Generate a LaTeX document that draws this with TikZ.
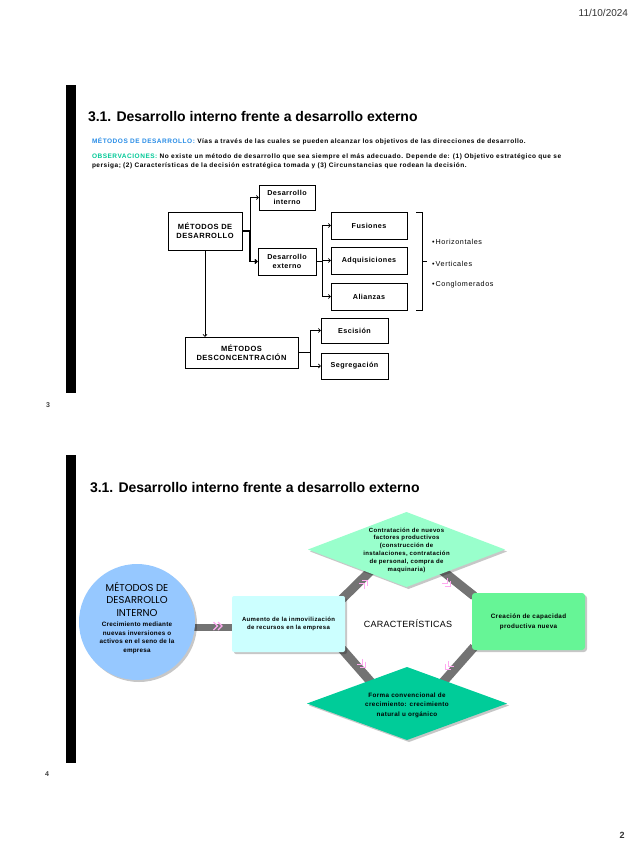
\documentclass[tikz,border=0pt]{standalone}
\usepackage{fontspec}
\setmainfont{Liberation Sans}
\newfontfamily\geofont{Poppins}
\usetikzlibrary{shapes.geometric,arrows.meta,calc,shadows}
\definecolor{lblue}{RGB}{40,140,230}
\definecolor{lgreen}{RGB}{0,200,150}
\definecolor{cblue}{RGB}{150,200,255}
\definecolor{ccyan}{RGB}{204,255,255}
\definecolor{cmint}{RGB}{153,255,204}
\definecolor{cgreen}{RGB}{102,245,150}
\definecolor{cteal}{RGB}{0,204,153}
\definecolor{cpink}{RGB}{255,170,240}
\definecolor{bandgray}{RGB}{115,115,115}
\newcommand\fs[2]{\fontsize{#1}{#2}\selectfont}
\newcommand\lsp[1]{\addfontfeatures{LetterSpace=#1}}
\pgfdeclarelayer{bg}
\pgfsetlayers{bg,main}
\begin{document}
\begin{tikzpicture}[x=1pt,y=-1pt,
  every node/.style={inner sep=0pt,outer sep=0pt},
  bx/.style={draw,line width=0.7pt,fill=white,align=center,
    drop shadow={shadow xshift=1.4pt,shadow yshift=-1.4pt,fill=black,opacity=1}},
  bxt/.style={font=\bfseries\fs{7.2}{8.8}\lsp{6}},
  bxb/.style={font=\bfseries\fs{7.5}{9}\lsp{7}},
  conn/.style={line width=0.7pt,-{Straight Barb[length=2.2pt,width=4pt]}},
  bar/.style={fill=black},
  pgnum/.style={text=black!75,font=\bfseries\fs{7}{8}},
  ttl/.style={anchor=west,font=\bfseries\fs{14}{16}},
  sshadow/.style={drop shadow={shadow xshift=2pt,shadow yshift=-2pt,fill=black,opacity=0.22}},
  band/.style={draw=bandgray,line width=9pt},
  chev/.pic={\draw[cpink,line width=1.2pt] (-4.5,-4) -- (-0.5,0) -- (-4.5,4) (0,-4) -- (4,0) -- (0,4);},
  small/.style={align=center,font=\bfseries\fs{6}{8}\lsp{6}}
]
\useasboundingbox (0,0) rectangle (636,848);
% header / footer
\node[anchor=east,text=black!80,font=\fs{10}{12}] (date) at (628,13) {11/10/2024};
\node[pgnum] (p3) at (48,405) {3};
\node[pgnum] (p4) at (47,774) {4};
\node[text=black!80,font=\bfseries\fs{9}{10}] (p2) at (622,835) {2};
% slide 1
\fill[bar] (66,85) rectangle (76,393);
\node[ttl] (t1) at (88,117) {3.1. Desarrollo interno frente a desarrollo externo};
\node[anchor=west,font=\bfseries\fs{6.5}{8}\lsp{8}] (info) at (92,141)
  {\textcolor{lblue}{MÉTODOS DE DESARROLLO:} Vías a través de las cuales se pueden alcanzar los objetivos de las direcciones de desarrollo.};
\node[anchor=north west,align=left,font=\bfseries\fs{6.5}{8.5}\lsp{8}] (obs) at (92,154)
  {\textcolor{lgreen}{OBSERVACIONES:} No existe un método de desarrollo que sea siempre el más adecuado. Depende de: (1) Objetivo estratégico que se\\
   persiga; (2) Características de la decisión estratégica tomada y (3) Circunstancias que rodean la decisión.};

\node[bx,bxb,minimum width=74,minimum height=38] (md) at (205,231) {MÉTODOS DE\\DESARROLLO};
\node[bx,bxt,minimum width=56,minimum height=25] (di) at (287,197.5) {Desarrollo\\interno};
\node[bx,bxt,minimum width=58,minimum height=27] (de) at (287,261.5) {Desarrollo\\externo};
\node[bx,bxt,minimum width=76,minimum height=27] (fu) at (369,225.5) {Fusiones};
\node[bx,bxt,minimum width=76,minimum height=27] (ad) at (369,260.5) {Adquisiciones};
\node[bx,bxt,minimum width=76,minimum height=27] (al) at (369,296.5) {Alianzas};
\node[bx,bxb,minimum width=113,minimum height=31] (mdc) at (241.5,352.5) {MÉTODOS\\DESCONCENTRACIÓN};
\node[bx,bxt,minimum width=67,minimum height=25] (es) at (354.5,330.5) {Escisión};
\node[bx,bxt,minimum width=67,minimum height=26] (se) at (354.5,366) {Segregación};

\draw[conn,line width=1.3pt] (md.east) -- ++(8,0) |- (de.west);
\draw[conn] (md.east) ++(8,0) |- (di.west);
\draw[conn] (de.east) -- ++(6,0) |- (fu.west);
\draw[conn] (de.east) -- ++(6,0) |- (ad.west);
\draw[conn] (de.east) -- ++(6,0) |- (al.west);
\draw[conn] (md.south) -- (md.south |- mdc.north);
\draw[conn] (mdc.east) -- ++(12,0) |- (es.west);
\draw[conn] (mdc.east) -- ++(12,0) |- (se.west);
\draw[line width=0.7pt] (416,212) -- (422,212) -- (422,310) -- (416,310) (422,261) -- (427,261);
\node[anchor=west,font=\fs{7.2}{8}\lsp{8}] (h) at (432,242) {\textbullet\,Horizontales};
\node[anchor=west,font=\fs{7.2}{8}\lsp{8}] (v) at (432,264) {\textbullet\,Verticales};
\node[anchor=west,font=\fs{7.2}{8}\lsp{8}] (c) at (432,285) {\textbullet\,Conglomerados};

% slide 2
\fill[bar] (66,455) rectangle (76,763);
\node[ttl] (t2) at (90,488) {3.1. Desarrollo interno frente a desarrollo externo};

\node[circle,fill=cblue,minimum size=116,sshadow] (cir) at (137,622) {};
\node[align=center,font=\geofont\fs{10}{12.5}] (cirh) at (137,599) {MÉTODOS DE\\DESARROLLO\\INTERNO};
\node[align=center,font=\bfseries\fs{6.3}{8.6}\lsp{4}] (cirt) at (137,638) {Crecimiento mediante\\nuevas inversiones o\\activos en el seno de la\\empresa};
\node[fill=ccyan,minimum width=113,minimum height=56,rounded corners=2pt,sshadow,small] (aum) at (288.5,624)
  {Aumento de la inmovilización\\de recursos en la empresa};
\node[diamond,fill=cmint,minimum width=197,minimum height=75,sshadow] (dt) at (406.5,549.5) {};
\node[small,font=\bfseries\fs{6}{7.8}\lsp{6}] (dtl) at (406.5,550)
  {Contratación de nuevos\\factores productivos\\(construcción de\\instalaciones, contratación\\de personal, compra de\\maquinaria)};
\node[fill=cgreen,minimum width=113,minimum height=57,rounded corners=3pt,sshadow] (cr) at (528.5,621.5) {};
\node[small,font=\bfseries\fs{6.3}{9.5}\lsp{6}] (crl) at (528.5,622) {Creación de capacidad\\productiva nueva};
\node[diamond,fill=cteal,minimum width=200,minimum height=73,sshadow] (db) at (407,703.5) {};
\node[small,font=\bfseries\fs{6.3}{9.5}\lsp{6}] (dbl) at (407,705) {Forma convencional de\\crecimiento: crecimiento\\natural u orgánico};
\node[font=\fs{9}{10}\lsp{3}] (car) at (408,624) {CARACTERÍSTICAS};

\begin{pgfonlayer}{bg}
\draw[band,line width=7pt] ($(cir.east)+(-8,5)$) -- ($(aum.west)+(2,3)$);
\draw[band] ($(aum.north east)+(-3,3)$) -- ($(dt.south west)+(14,2)$);
\draw[band] ($(dt.south east)+(-14,2)$) -- ($(cr.north west)+(2,3)$);
\draw[band] ($(cr.south west)+(2,-3)$) -- ($(db.north east)+(-15,-2)$);
\draw[band] ($(aum.south east)+(-3,-3)$) -- ($(db.north west)+(15,-2)$);
\end{pgfonlayer}
\pic at (218,626) {chev};
\pic[rotate=45] at (365,583) {chev};
\pic[rotate=-45] at (448,584) {chev};
\pic[rotate=-135] at (448,667) {chev};
\pic[rotate=-45] at (363,665) {chev};
\end{tikzpicture}
\end{document}
